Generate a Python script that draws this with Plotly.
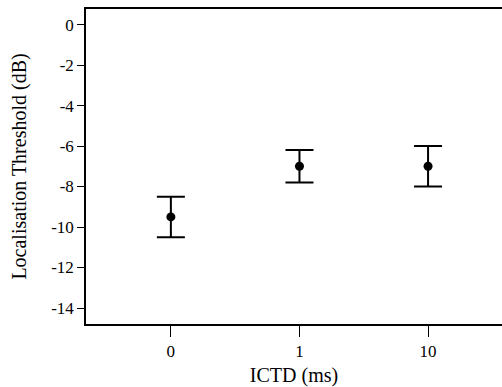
import plotly.graph_objects as go

categories = ["0", "1", "10"]
means = [-9.5, -7.0, -7.0]
err_plus = [1.0, 0.8, 1.0]
err_minus = [1.0, 0.8, 1.0]
y_ticks = [0, -2, -4, -6, -8, -10, -12, -14]
y_labels = ["0", "-2", "-4", "-6", "-8", "-10", "-12", "-14"]

xpos = list(range(len(categories)))

fig = go.Figure()
fig.add_trace(go.Scatter(
    x=xpos, y=means, mode="markers",
    marker=dict(color="black", size=9),
    error_y=dict(type="data", symmetric=False, array=err_plus, arrayminus=err_minus,
                 color="black", thickness=2, width=14),
    showlegend=False,
))

font = "Liberation Serif"
fig.update_layout(
    width=502, height=387,
    margin=dict(l=86, r=0, t=9, b=63, autoexpand=False),
    paper_bgcolor="white", plot_bgcolor="white",
    font=dict(family=font, color="black", size=17),
    xaxis=dict(
        range=[-0.66, 2.575], tickvals=xpos, ticktext=categories,
        showline=True, linecolor="black", linewidth=1.5, mirror=True,
        ticks="outside", ticklen=11, tickwidth=1, tickcolor="black",
        showgrid=False, zeroline=False,
        tickfont=dict(family=font, size=17),
        title=dict(text="ICTD (ms)", font=dict(family=font, size=20), standoff=9),
    ),
    yaxis=dict(
        range=[-14.79, 0.77], tickvals=y_ticks, ticktext=y_labels,
        showline=True, linecolor="black", linewidth=1.5,
        ticks="outside", ticklen=7, tickwidth=1, tickcolor="black",
        showgrid=False, zeroline=False,
        tickfont=dict(family=font, size=17),
        title=dict(text="Localisation Threshold (dB)", font=dict(family=font, size=20), standoff=19),
    ),
)

fig.write_html("out.html")
